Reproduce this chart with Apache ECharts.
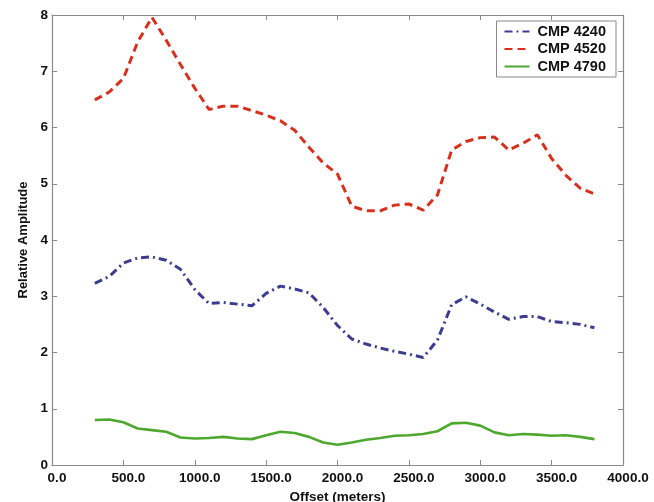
<!DOCTYPE html>
<html>
<head>
<meta charset="utf-8">
<script src="https://cdn.jsdelivr.net/npm/echarts@6/dist/echarts.min.js"></script>
<style>
html,body{margin:0;padding:0;background:#fff;}
#chart{width:654px;height:502px;}
</style>
</head>
<body>
<div id="chart"></div>
<script>
var offsets = [300,400,500,600,700,800,900,1000,1100,1200,1300,1400,1500,1600,1700,1800,1900,2000,
  2100,2200,2300,2400,2500,2600,2700,2800,2900,3000,3100,3200,3300,3400,3500,3600,3700,3800];
var cmp4240 = [3.23,3.35,3.59,3.68,3.70,3.64,3.48,3.12,2.87,2.89,2.86,2.83,3.05,3.18,3.13,3.06,2.80,2.48,
  2.24,2.15,2.08,2.02,1.97,1.91,2.22,2.85,2.99,2.86,2.72,2.59,2.64,2.64,2.55,2.53,2.50,2.44];
var cmp4520 = [6.49,6.63,6.87,7.52,7.96,7.55,7.12,6.70,6.32,6.38,6.38,6.30,6.22,6.12,5.95,5.65,5.37,5.17,
  4.60,4.52,4.52,4.62,4.64,4.53,4.80,5.60,5.75,5.82,5.83,5.60,5.72,5.87,5.45,5.15,4.92,4.82];
var cmp4790 = [0.80,0.81,0.76,0.65,0.62,0.59,0.49,0.47,0.48,0.50,0.47,0.46,0.53,0.59,0.57,0.50,0.40,0.36,
  0.40,0.45,0.48,0.52,0.53,0.55,0.60,0.74,0.75,0.70,0.58,0.53,0.55,0.54,0.52,0.53,0.50,0.46];
var seriesNames = ['CMP 4240','CMP 4520','CMP 4790'];
var xTitle = 'Offset (meters)';
var yTitle = 'Relative Amplitude';

function pairs(vals){ return offsets.map(function(x,i){ return [x, vals[i]]; }); }

var FONT = '"Liberation Sans", Arial, Helvetica, sans-serif';
var axisColor = '#8a8a8a';

var chart = echarts.init(document.getElementById('chart'), null, {renderer:'canvas'});
var xBase = {
  type:'value', min:0, max:4000, interval:500,
  axisLine:{show:true, onZero:false, lineStyle:{color:axisColor, width:1.2}},
  axisTick:{show:true, inside:true, length:5, lineStyle:{color:axisColor}},
  splitLine:{show:false}
};
var yBase = {
  type:'value', min:0, max:8, interval:1,
  axisLine:{show:true, onZero:false, lineStyle:{color:axisColor, width:1.2}},
  axisTick:{show:true, inside:true, length:5, lineStyle:{color:axisColor}},
  splitLine:{show:false}
};
chart.setOption({
  animation:false,
  backgroundColor:'#fff',
  grid:{left:52, right:31, top:15, bottom:37, containLabel:false, outerBoundsMode:'none'},
  legend:{
    data:seriesNames,
    orient:'vertical', right:38, top:21,
    itemWidth:25, itemHeight:14, itemGap:2.5,
    padding:[3,10,3,7],
    backgroundColor:'#fff', borderColor:'#8a8a8a', borderWidth:1,
    itemStyle:{opacity:0, borderWidth:0},
    textStyle:{fontFamily:FONT, fontWeight:'bold', fontSize:14.5, color:'#111', padding:[0,0,0,3]}
  },
  xAxis:[
    Object.assign({}, xBase, {
      position:'bottom',
      name:xTitle, nameLocation:'middle', nameGap:23,
      nameTextStyle:{fontFamily:FONT, fontWeight:'bold', fontSize:13.5, color:'#111'},
      axisLabel:{show:true, margin:6, padding:[0,0,0,10], fontFamily:FONT, fontWeight:'bold', fontSize:13.5, color:'#111',
        formatter:function(v){ return v.toFixed(1); }}
    }),
    Object.assign({}, xBase, {position:'top', axisLabel:{show:false}})
  ],
  yAxis:[
    Object.assign({}, yBase, {
      position:'left',
      name:yTitle, nameLocation:'middle', nameGap:22, nameRotate:90,
      nameTextStyle:{fontFamily:FONT, fontWeight:'bold', fontSize:13, color:'#111'},
      axisLabel:{show:true, margin:4, fontFamily:FONT, fontWeight:'bold', fontSize:13.5, color:'#111'}
    }),
    Object.assign({}, yBase, {position:'right', axisLabel:{show:false}})
  ],
  series:[
    {name:seriesNames[0], type:'line', data:pairs(cmp4240), symbol:'none', smooth:false,
      lineStyle:{color:'#3d3d8f', width:3, type:[8,4,2,4]}, itemStyle:{color:'#3d3d8f'}},
    {name:seriesNames[1], type:'line', data:pairs(cmp4520), symbol:'none', smooth:false,
      lineStyle:{color:'#d6301f', width:3, type:[8,5]}, itemStyle:{color:'#d6301f'}},
    {name:seriesNames[2], type:'line', data:pairs(cmp4790), symbol:'none', smooth:false,
      lineStyle:{color:'#4ea72e', width:2.6, type:'solid'}, itemStyle:{color:'#4ea72e'}}
  ]
});
</script>
</body>
</html>
